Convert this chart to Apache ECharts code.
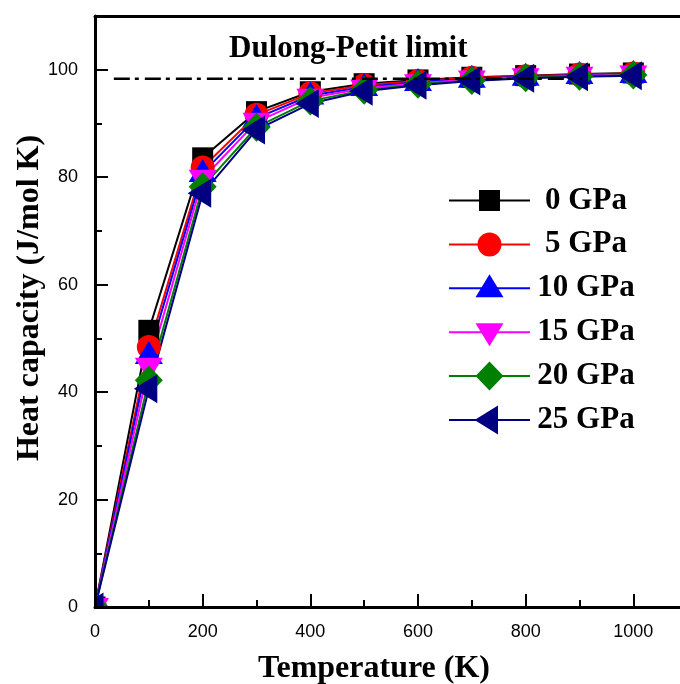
<!DOCTYPE html>
<html><head><meta charset="utf-8">
<script src="https://cdn.jsdelivr.net/npm/echarts@6/dist/echarts.min.js"></script>
<style>html,body{margin:0;padding:0;background:#fff}#c{width:680px;height:684px}</style>
</head><body><div id="c"></div>
<script>
// ---- data ----
const temperatures = [0, 100, 200, 300, 400, 500, 600, 700, 800, 900, 1000];
const cv0GPa  = [0, 51.5, 83.6, 92.2, 95.9, 97.4, 98.1, 98.6, 98.9, 99.2, 99.4];
const cv5GPa  = [0, 48.4, 81.8, 91.6, 95.6, 97.1, 97.9, 98.5, 98.8, 99.1, 99.3];
const cv10GPa = [0, 46.9, 80.8, 91.0, 95.2, 96.8, 97.7, 98.3, 98.7, 99.0, 99.2];
const cv15GPa = [0, 44.7, 79.7, 90.3, 94.8, 96.5, 97.5, 98.2, 98.6, 98.9, 99.1];
const cv20GPa = [0, 42.2, 78.2, 89.3, 94.2, 96.2, 97.3, 98.0, 98.5, 98.8, 99.0];
const cv25GPa = [0, 40.6, 77.0, 88.8, 93.7, 96.0, 97.1, 97.9, 98.4, 98.7, 98.9];
const seriesNames = ['0 GPa', '5 GPa', '10 GPa', '15 GPa', '20 GPa', '25 GPa'];
const dulongPetitValue = 98.3;
const dulongPetitRange = [35, 905];
const dulongPetitLabel = 'Dulong-Petit limit';

// ---- styles ----
const serif = '"Liberation Serif","Times New Roman",serif';
const sans = '"Liberation Sans",Arial,sans-serif';
const colors = ['#000000', '#ff0000', '#0000ff', '#ff00ff', '#008000', '#000080'];
const symbols = [
  'path://M0,0M30,30M4.5,4.5L25.5,4.5L25.5,25.5L4.5,25.5Z',
  'path://M0,0M30,30M3,15A12,12,0,1,1,27,15A12,12,0,1,1,3,15Z',
  'path://M0,0M30,30M15,1L29,24L1,24Z',
  'path://M0,0M30,30M1,6L29,6L15,29Z',
  'path://M0,0M30,30M15,0.5L29,15L15,29.5L1,15Z',
  'path://M0,0M30,30M0,15L23.5,0.5L23.5,29.5Z'
];
const allValues = [cv0GPa, cv5GPa, cv10GPa, cv15GPa, cv20GPa, cv25GPa];

const series = allValues.map((vals, i) => ({
  name: seriesNames[i],
  type: 'line',
  data: temperatures.map((t, j) => [t, vals[j]]),
  symbol: symbols[i],
  symbolSize: 30,
  lineStyle: { color: colors[i], width: 2 },
  itemStyle: { color: colors[i] },
  z: 2,
  animation: false
}));
series.push({
  name: 'DP',
  type: 'line',
  data: [[dulongPetitRange[0], dulongPetitValue], [dulongPetitRange[1], dulongPetitValue]],
  symbol: 'none',
  lineStyle: { color: '#000', width: 2.5, type: [16, 5, 4, 6] },
  z: 3,
  silent: true,
  animation: false
});

const axisLine = { show: true, lineStyle: { color: '#000', width: 3 } };
const plain = v => String(v);
const chart = echarts.init(document.getElementById('c'), null, { renderer: 'canvas' });
chart.setOption({
  animation: false,
  backgroundColor: '#fff',
  grid: { left: 95, top: 16, width: 590, height: 591, outerBoundsMode: 'none', containLabel: false },
  xAxis: [{
    type: 'value', min: 0, max: 1096, interval: 200, position: 'bottom',
    axisLine: axisLine,
    axisTick: { show: true, inside: true, length: 13, lineStyle: { color: '#000', width: 2 } },
    minorTick: { show: true, splitNumber: 2, length: 7, lineStyle: { color: '#000', width: 2 } },
    axisLabel: { color: '#000', fontSize: 18, fontFamily: sans, margin: 16, formatter: plain, showMaxLabel: false },
    splitLine: { show: false },
    name: 'Temperature (K)', nameLocation: 'middle', nameGap: 46, nameMoveOverlap: false,
    nameTextStyle: { color: '#000', fontSize: 32, fontWeight: 'bold', fontFamily: serif, padding: [0, 32, 0, 0] },
    z: 5
  }, {
    type: 'value', min: 0, max: 1096, position: 'top',
    axisLine: axisLine, axisTick: { show: false }, axisLabel: { show: false },
    splitLine: { show: false }, z: 5
  }],
  yAxis: {
    type: 'value', min: 0, max: 110, interval: 20,
    axisLine: axisLine,
    axisTick: { show: true, inside: true, length: 13, lineStyle: { color: '#000', width: 2 } },
    minorTick: { show: true, splitNumber: 2, length: 7, lineStyle: { color: '#000', width: 2 } },
    axisLabel: { color: '#000', fontSize: 18, fontFamily: sans, margin: 17, formatter: plain, showMaxLabel: false },
    splitLine: { show: false },
    name: 'Heat capacity (J/mol K)', nameLocation: 'middle', nameGap: 49, nameMoveOverlap: false,
    nameTextStyle: { color: '#000', fontSize: 32, fontWeight: 'bold', fontFamily: serif, padding: [0, 0, 0, 27] },
    z: 5
  },
  legend: {
    orient: 'vertical', left: 443, top: 180,
    itemWidth: 81, itemHeight: 37.5, itemGap: 12.9,
    data: seriesNames,
    formatter: '{a|{name}}',
    textStyle: {
      color: '#000', fontSize: 31, fontWeight: 'bold', fontFamily: serif,
      rich: { a: { width: 102, align: 'center', color: '#000', fontSize: 31, fontWeight: 'bold', fontFamily: serif, lineHeight: 32 } }
    },
    selectedMode: false
  },
  graphic: [
    { type: 'rect', z: 4, silent: true, shape: { x: 50, y: 560, width: 44, height: 70 }, style: { fill: '#fff' } },
    { type: 'rect', z: 4, silent: true, shape: { x: 50, y: 608.5, width: 90, height: 17 }, style: { fill: '#fff' } },
    { type: 'text', z: 6, left: 229, top: 33,
      style: { text: dulongPetitLabel, fill: '#000', font: 'bold 31px ' + serif } }
  ],
  series: series
});
</script>
</body></html>
